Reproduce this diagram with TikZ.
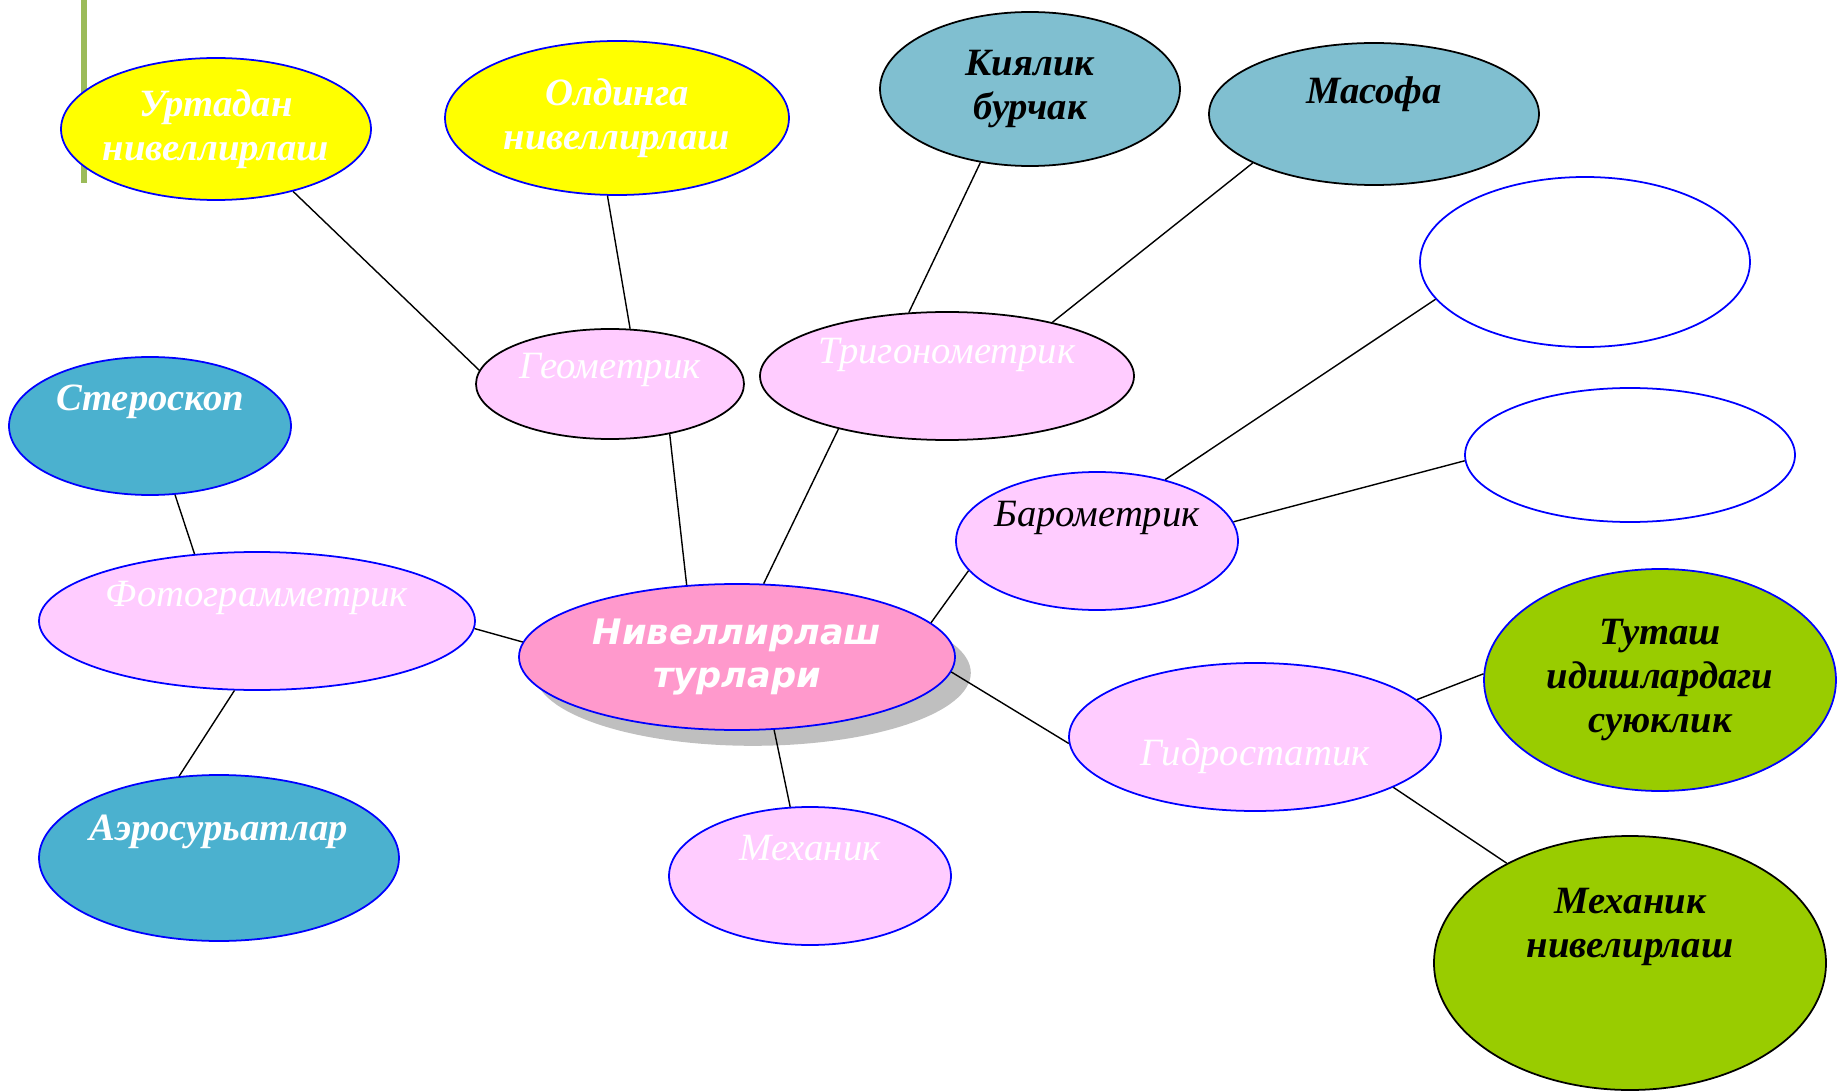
\documentclass[tikz,border=0pt]{standalone}
\usepackage{fontspec}
\setmainfont{Liberation Serif}
\newfontfamily\verdfont{DejaVu Sans}
\usetikzlibrary{shapes.geometric,shadows}
\definecolor{yel}{HTML}{FFFF00}
\definecolor{lblue}{HTML}{80BFD0}
\definecolor{dblue}{HTML}{4BB1CF}
\definecolor{lpink}{HTML}{FFCCFF}
\definecolor{dpink}{HTML}{FF99CC}
\definecolor{lgreen}{HTML}{99CC00}
\definecolor{barcol}{HTML}{9BBB59}
\begin{document}
\begin{tikzpicture}[x=0.02cm,y=-0.02cm,line width=0.8pt,
		ell/.style={ellipse,draw=blue,line width=1pt,inner sep=0pt,inner xsep=-12pt,align=center,font=\fontsize{22}{25}\selectfont\itshape},
		bb/.style={font=\fontsize{22}{25}\selectfont\bfseries\itshape},
		lift/.style={text height=16pt,text depth=#1},
		sz/.style 2 args={minimum width=#1*0.02cm,minimum height=#2*0.02cm}]
	\useasboundingbox (0,0) rectangle (1837,1091);
	\draw[barcol,line width=3pt] (84,0) -- (84,183);
	% top row
	\node[ell,bb,sz={310}{142},fill=yel,text=white] (urt) at (216,129) {Уртадан\\нивеллирлаш};
	\node[ell,bb,sz={344}{154},fill=yel,text=white] (old) at (617,118) {Олдинга\\нивеллирлаш};
	\node[ell,bb,sz={300}{154},fill=lblue,draw=black] (kiy) at (1030,89) {Киялик\\бурчак};
	\node[ell,bb,sz={330}{142},fill=lblue,draw=black,lift=28pt] (mas) at (1374,114) {Масофа};
	\node[ell,sz={330}{170},fill=white] (bo1) at (1585,262) {};
	\node[ell,sz={330}{134},fill=white] (bo2) at (1630,455) {};
	% middle
	\node[ell,sz={268}{110},fill=lpink,draw=black,text=white,lift=22pt] (geo) at (610,384) {Геометрик};
	\node[ell,sz={374}{128},fill=lpink,draw=black,text=white,lift=30pt] (tri) at (947,376) {Тригонометрик};
	\node[ell,bb,sz={282}{138},fill=dblue,text=white,lift=34pt] (ste) at (150,426) {Стероскоп};
	\node[ell,sz={436}{138},fill=lpink,text=white,lift=32pt] (foto) at (257,621) {Фотограмметрик};
	\node[ell,sz={436}{146},fill=dpink,text=white,font=\fontsize{20}{24}\selectfont\verdfont\bfseries\itshape,
		drop shadow={shadow xshift=9pt,shadow yshift=-9pt,fill=black!25,opacity=1}] (niv) at (737,657) {Нивеллирлаш\\турлари};
	\node[ell,sz={282}{138},fill=lpink,lift=32pt] (bar) at (1097,541) {Барометрик};
	\node[ell,sz={282}{138},fill=lpink,text=white,lift=34pt] (mex) at (810,876) {Механик};
	\node[ell,bb,sz={360}{166},fill=dblue,text=white,lift=36pt] (aero) at (219,858) {Аэросурьатлар};
	\node[ell,sz={372}{148},fill=lpink,text=white,text height=38pt,text depth=6pt] (gid) at (1255,737) {Гидростатик};
	\node[ell,bb,sz={352}{222},fill=lgreen] (tut) at (1660,680) {Туташ\\идишлардаги\\суюклик};
	\node[ell,bb,sz={392}{254},fill=lgreen,draw=black,text depth=46pt] (mexn) at (1630,963) {Механик\\нивелирлаш};
	% connectors
	\draw (urt.-39) -- (geo.174);
	\draw (old.-97) -- (geo.70);
	\draw (kiy.-124) -- (tri.121);
	\draw (mas.-158) -- (tri.27);
	\draw (bo1.-166) -- (bar.42);
	\draw (bo2.-178) -- (bar.8);
	\draw (geo.-40) -- (niv.125);
	\draw (tri.-154) -- (niv.70);
	\draw (ste.-70) -- (foto.133);
	\draw (foto.-2) -- (niv.176);
	\draw (foto.-108) -- (aero.116);
	\draw (bar.-167) -- (niv.10);
	\draw (niv.-4) -- (gid.-178);
	\draw (niv.-63) -- (mex.106);
	\draw (gid.13) -- (tut.178);
	\draw (gid.-20) -- (mexn.141);
\end{tikzpicture}
\end{document}
